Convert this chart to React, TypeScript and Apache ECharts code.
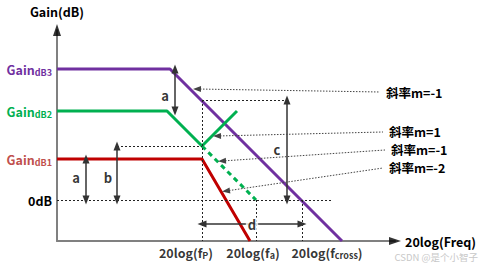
import React, { useEffect, useRef } from "react";
import * as echarts from "echarts";

const FONT = "'Noto Sans CJK SC', 'Noto Sans', sans-serif";

// Gain levels (vertical units above the frequency axis)
const levelNames = ["0dB", "GaindB1", "GaindB2", "GaindB3"];
const levelValues = [41, 82, 130, 172];
const levelColors = ["#000000", "#c0504d", "#00b050", "#7030a0"];

// Frequency ticks (horizontal units from the gain axis)
const freqNames = ["P", "a", "cross"];
const freqValues = [145, 199, 245];

// Curves
const purpleX = [0, 113, 285];
const purpleY = [172, 172, 0];
const greenX = [0, 110, 145, 180];
const greenY = [130, 130, 95, 130];
const greenDashX = [145, 199];
const greenDashY = [95, 41];
const redX = [0, 145, 193];
const redY = [82, 82, 0];

// Slope call-outs
const slopeTexts = ["斜率m=-1", "斜率m=1", "斜率m=-1", "斜率m=-2"];
const slopeFromX = [140, 160, 165, 169];
const slopeFromY = [152, 105, 80, 50];
const slopeToX = [323, 326, 328, 326];
const slopeToY = [149, 109, 91, 73];

// Dimension arrows
const dimNames = ["a", "b", "a", "c", "d"];
const dimFrom = [[29, 82], [60, 95], [118, 172], [230, 141], [145, 17]];
const dimTo = [[29, 41], [60, 41], [118, 130], [230, 41], [245, 17]];
const dimLabel = [[19, 64], [51, 64], [108, 146], [220, 92], [195, 17]];

// Dotted guide lines
const guideFrom = [[0, 41], [60, 95], [145, 141], [145, 141], [199, 41], [245, 41]];
const guideTo = [[275, 41], [145, 95], [145, 0], [230, 141], [199, 0], [245, 0]];

const freqLabelOffset = [-16, -3, 25];

function pts(xs: number[], ys: number[]) {
  return xs.map((x, i) => [x, ys[i]]);
}

export default function App() {
  const ref = useRef<HTMLDivElement>(null);
  useEffect(() => {
    const chart = echarts.init(ref.current!, null, { renderer: "svg" });
    const txt = { fontFamily: FONT, fontWeight: "bold" as const, fontSize: 12.5, color: "#000" };

    const rich: any = {
      m: { ...txt, lineHeight: 16 },
      s: { ...txt, fontSize: 9, lineHeight: 16, verticalAlign: "bottom" },
    };
    levelColors.forEach((c, i) => {
      rich["g" + i] = { ...txt, color: c, lineHeight: 16 };
      rich["s" + i] = { ...txt, color: c, fontSize: 9, lineHeight: 16, verticalAlign: "bottom" };
    });

    const line = (xs: number[], ys: number[], color: string, type: any = "solid") => ({
      type: "line",
      data: pts(xs, ys),
      showSymbol: false,
      symbol: "none",
      silent: true,
      z: 3,
      lineStyle: { color, width: 3, type },
    });

    const markData: any[] = [];
    guideFrom.forEach((f, i) => {
      markData.push([
        { coord: f, symbol: "none", lineStyle: { type: [2, 2], width: 1, color: "#222" } },
        { coord: guideTo[i], symbol: "none" },
      ]);
    });
    dimFrom.forEach((f, i) => {
      markData.push([
        { coord: f, symbol: "triangle", symbolSize: [7, 9], lineStyle: { type: "solid", width: 1.5, color: "#333" } },
        { coord: dimTo[i], symbol: "triangle", symbolSize: [7, 9] },
      ]);
    });
    slopeTexts.forEach((t, i) => {
      markData.push([
        {
          coord: [slopeFromX[i], slopeFromY[i]],
          symbol: "triangle",
          symbolSize: [6, 8],
          lineStyle: { type: [1.5, 1.5], width: 1, color: "#444", curveness: -0.04 },
          label: { show: true, position: "end", distance: 6, formatter: t, ...txt },
        },
        { coord: [slopeToX[i], slopeToY[i]], symbol: "none" },
      ]);
    });

    const option: any = {
      animation: false,
      backgroundColor: "#fff",
      grid: { left: 57, top: 30, width: 338, height: 211 },
      xAxis: {
        type: "value",
        min: 0,
        max: 338,
        name: "20log(Freq)",
        nameLocation: "end",
        nameGap: 10,
        nameTextStyle: { ...txt },
        axisLine: { show: true, lineStyle: { color: "#808080", width: 2 } },
        axisTick: { show: false },
        axisLabel: { show: false },
        splitLine: { show: false },
      },
      yAxis: {
        type: "value",
        min: 0,
        max: 211,
        name: "Gain(dB)",
        nameLocation: "end",
        nameGap: 12,
        nameTextStyle: { ...txt },
        axisLine: { show: true, lineStyle: { color: "#808080", width: 2 } },
        axisTick: { show: false },
        splitLine: { show: false },
        axisLabel: {
          show: true,
          margin: 5,
          customValues: levelValues,
          formatter: (v: number) => {
            const i = levelValues.indexOf(v);
            if (i < 0) return "";
            if (i === 0) return "{g0|" + levelNames[0] + "}";
            return "{g" + i + "|Gain}{s" + i + "|" + levelNames[i].slice(4) + "}";
          },
          rich,
        },
      },
      series: [
        line(purpleX, purpleY, "#7030a0"),
        line(greenX, greenY, "#00b050"),
        line(greenDashX, greenDashY, "#00b050", [5, 4]),
        line(redX, redY, "#c00000"),
        {
          type: "line",
          data: [],
          silent: true,
          z: 2,
          markLine: { silent: true, animation: false, symbol: ["none", "none"], label: { show: false }, data: markData },
        },
        {
          type: "scatter",
          silent: true,
          clip: false,
          z: 6,
          symbolSize: 0,
          data: dimLabel.map((p, i) => ({
            value: p,
            label: {
              formatter: dimNames[i],
              backgroundColor: dimNames[i] === "d" ? "#fff" : "transparent",
              padding: [0, 2],
            },
          })),
          label: { show: true, position: "inside", ...txt, fontSize: 13 },
        },
        {
          type: "scatter",
          silent: true,
          clip: false,
          z: 6,
          symbolSize: 0,
          data: freqValues.map((f, i) => ({
            value: [f + freqLabelOffset[i], -11],
            label: { formatter: "{m|20log(f}{s|" + freqNames[i] + "}{m|)}" },
          })),
          label: { show: true, position: "inside", rich },
        },
        {
          type: "scatter",
          silent: true,
          clip: false,
          z: 7,
          itemStyle: { color: "#000" },
          data: [
            { value: [0, 211], symbol: "triangle", symbolSize: [8, 12], symbolRotate: 0 },
            { value: [338, 0], symbol: "triangle", symbolSize: [8, 12], symbolRotate: -90 },
          ],
        },
      ],
      graphic: [
        {
          type: "text",
          right: 5,
          top: 252,
          style: { text: "CSDN @是个小智子", fill: "#c8c8c8", fontSize: 9.5, fontFamily: FONT },
        },
      ],
    };
    chart.setOption(option);
    return () => chart.dispose();
  }, []);
  return <div ref={ref} style={{ width: 483, height: 266, position: "absolute", left: 0, top: 0 }} />;
}
